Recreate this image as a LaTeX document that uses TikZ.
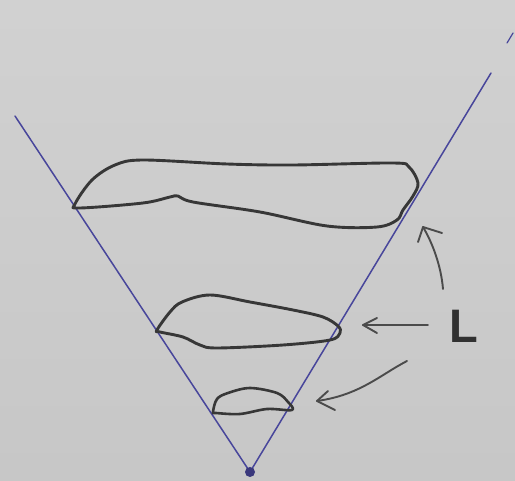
\documentclass[tikz,border=0pt]{standalone}
\usepackage{fontspec}
\setmainfont{Liberation Sans}
\definecolor{penblue}{RGB}{72,70,155}
\definecolor{ink}{RGB}{55,55,55}
\begin{document}
\begin{tikzpicture}[x=1pt,y=-1pt,
  pen/.style={draw=ink,line width=2.9pt,line cap=round,line join=round},
  blueline/.style={draw=penblue,line width=1.5pt,line cap=round},
  arr/.style={draw=ink!90,line width=1.9pt,line cap=round,line join=round},
  blob/.style={pen,smooth cycle,tension=0.55}]
\shade[top color=black!18,bottom color=black!22] (0,0) rectangle (515,481);
\useasboundingbox (0,0) rectangle (515,481);
% cone
\coordinate (apex) at (250,472);
\coordinate (ltop) at (15,116);
\coordinate (rtop) at (491,73);
\draw[blueline] (ltop) -- (apex) -- (rtop);
\coordinate (s1) at (507,43);
\coordinate (s2) at (513,33);
\draw[blueline,line width=1.2pt] (s1) -- (s2);
\fill[penblue!80!black] (apex) circle (5);
% blobs
\draw[blob] plot coordinates {(75,204) (92,180) (115,165) (143,160) (227,164) (293,165) (393,163) (409,167) (418,183) (413,196) (403,210) (397,220) (377,227) (327,226) (260,212) (193,202) (178,196) (170,197) (143,203) (80,208)};
\draw[blob] plot coordinates {(157,330) (170,312) (182,302) (210,295) (250,302) (293,310) (323,317) (338,326) (340,333) (330,340) (283,345) (217,348) (200,345) (183,337) (160,332)};
\draw[blob,line width=2.6pt] plot coordinates {(213,412) (217,399) (228,393) (250,388) (277,393) (288,402) (292,410) (267,409) (240,414) (216,413)};
% label
\node[font=\bfseries\fontsize{47}{47}\selectfont,text=ink!90!black,inner sep=0pt,anchor=base west] (L) at (449,343) {L};
% arrows
\coordinate (t1) at (443,289);
\coordinate (h1) at (423,227);
\draw[arr] (t1) .. controls (441,265) and (432,242) .. (h1);
\draw[arr] (418,242) -- (h1) -- (442,233);
\coordinate (t2) at (428,325);
\coordinate (h2) at (363,325);
\draw[arr] (t2) -- (h2);
\draw[arr] (377,318) -- (h2) -- (377,333);
\coordinate (t3) at (407,361);
\coordinate (h3) at (317,401);
\draw[arr] (t3) .. controls (380,375) and (360,395) .. (h3);
\draw[arr] (328,391) -- (h3) -- (335,410);
\end{tikzpicture}
\end{document}
